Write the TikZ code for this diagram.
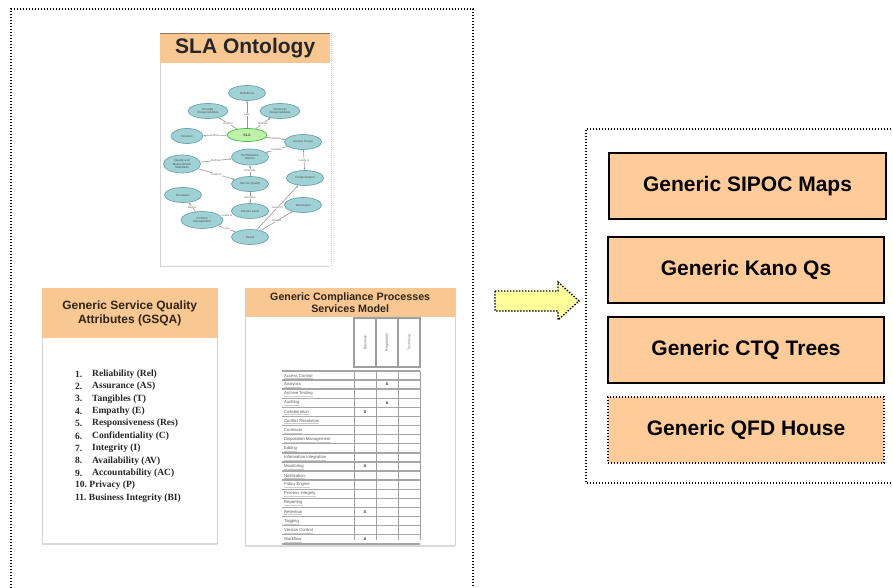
\documentclass[tikz,border=0pt]{standalone}
\usepackage{fontspec}
\setmainfont{Liberation Sans}
\newfontfamily\serifface{Liberation Serif}
\usetikzlibrary{arrows.meta,shapes.geometric}

\definecolor{peach}{HTML}{FFCC99}
\definecolor{hdrpeach}{HTML}{F8C792}
\definecolor{hdrtext}{HTML}{2E2418}
\definecolor{pale}{HTML}{FFFF99}
\definecolor{ontofill}{HTML}{A0D2D5}
\definecolor{ontoline}{HTML}{6AA6A9}
\definecolor{slagreen}{HTML}{BDF2A8}

\begin{document}
\begin{tikzpicture}[x=1pt,y=-1pt,
  dotline/.style={line width=1.4pt, dash pattern=on 1.4pt off 1.6pt},
  genbox/.style={draw=black, line width=1.8pt, fill=peach, minimum width=276pt,
    minimum height=66pt, inner sep=0pt, font=\fontsize{21}{24}\selectfont\bfseries},
  panel/.style={draw=gray!35, line width=0.8pt, fill=white},
  panelhdr/.style={fill=hdrpeach, inner sep=0pt, anchor=north west, text=hdrtext, align=center},
  onto/.style={ellipse, draw=ontoline, line width=0.7pt, fill=ontofill, minimum width=37pt,
    minimum height=15pt, inner sep=0pt, align=center, text=black!70,
    font=\fontsize{3}{3.4}\selectfont},
  rel/.style={draw=gray!80, line width=0.6pt, -{Stealth[length=2.4pt,width=2pt]}},
  rellab/.style={font=\fontsize{2.8}{3}\selectfont, text=black!60, inner sep=0.4pt, fill=white},
  rowlab/.style={anchor=west, inner sep=0pt, font=\fontsize{4.2}{5}\selectfont, text=black!65},
  colhead/.style={draw=gray!75, line width=1.3pt, fill=white, minimum width=22pt, minimum height=49pt,
    inner sep=0pt, font=\fontsize{3.6}{4}\selectfont, text=black!60},
  cellmark/.style={inner sep=0pt, font=\fontsize{5}{5}\selectfont\bfseries, text=black!80},
]
\useasboundingbox (0,0) rectangle (893,588);
\clip (0,0) rectangle (893,588);

% ---------- left container ----------
\draw[dotline] (11,600) -- (11,9) -- (473,9) -- (473,600);

% ---------- SLA ontology panel ----------
\fill[white] (160,33) rectangle (330,266);
\draw[gray!35, line width=1pt] (160,63) -- (160,266) -- (330,266);
\draw[gray!45, line width=1pt, dash pattern=on 1pt off 1pt] (331.5,33) -- (331.5,266);
\node[panelhdr, minimum width=170pt, minimum height=30pt, text=black!85,
      font=\fontsize{21}{24}\selectfont\bfseries] (slahdr) at (160,33) {SLA Ontology};
\draw[hdrtext!50!hdrpeach, line width=0.8pt] (slahdr.north west) -- (slahdr.north east);

\node[onto] (def)   at (247,93)  {Definitions};
\node[onto, minimum width=40pt] (prov)  at (208,111) {Provider\\Responsibilities};
\node[onto, minimum width=40pt] (cust)  at (280,111) {Customer\\Responsibilities};
\node[onto, minimum width=32pt] (dur)   at (187,136) {Duration};
\node[onto, fill=slagreen, draw=green!45!gray, minimum width=40pt, minimum height=13pt,
      font=\fontsize{3.6}{4}\selectfont\bfseries] (sla) at (247,135) {SLA};
\node[onto] (scope) at (303,142) {Service Scope};
\node[onto, minimum height=16pt] (perf)  at (250,157) {Performance\\Metrics};
\node[onto, minimum height=18pt] (qual)  at (182,164) {Quality and\\Measurement\\Standards};
\node[onto] (comp)  at (305,178) {Compensation};
\node[onto] (squal) at (250,184) {Service Quality};
\node[onto] (esc)   at (183,195) {Escalation};
\node[onto] (term)  at (303,205) {Termination};
\node[onto] (slev)  at (250,211) {Service Level};
\node[onto, minimum width=42pt, minimum height=17pt] (prob) at (202,220) {Problem\\Management};
\node[onto] (res)   at (250,237) {Result};

\draw[rel] (sla) -- node[rellab] {Has} (def);
\draw[rel] (sla) -- node[rellab] {Defines} (prov);
\draw[rel] (sla) -- node[rellab] {Defines} (cust);
\draw[rel] (sla) -- node[rellab] {Defines} (dur);
\draw[rel] (sla) -- node[rellab] {Contains} (scope);
\draw[rel] (scope) -- node[rellab] {Includes} (perf);
\draw[rel] (qual) -- node[rellab] {Defines} (perf);
\draw[rel] (scope) -- node[rellab] {Leads to} (comp);
\draw[rel] (squal) -- node[rellab] {Depends} (perf);
\draw[rel] (qual) -- node[rellab] {Leads to} (squal);
\draw[rel] (squal) -- node[rellab] {Identifies} (slev);
\draw[rel] (prob) -- node[rellab] {Needs} (esc);
\draw[rel] (slev) -- node[rellab] {Leads to} (prob);
\draw[rel] (prob) -- node[rellab] {Uses} (res);
\draw[rel] (res) -- node[rellab] {Leads to} (comp);
\draw[rel] (res) -- node[rellab] {Causes} (term);

% ---------- GSQA panel ----------
\draw[panel] (42,288) rectangle (217,543);
\draw[gray!30, line width=2pt] (42,544) -- (217,544);
\node[panelhdr, minimum width=175pt, minimum height=50pt,
      font=\fontsize{12}{13.5}\selectfont\bfseries] (gsqahdr) at (42,288)
      {Generic Service Quality\\Attributes (GSQA)};
\foreach \n/\t [count=\k from 0] in {1./Reliability (Rel), 2./Assurance (AS), 3./Tangibles (T),
    4./Empathy (E), 5./Responsiveness (Res), 6./Confidentiality (C), 7./Integrity (I),
    8./Availability (AV), 9./Accountability (AC), 10./Privacy (P), 11./Business Integrity (BI)}{
  \ifnum\k<9
    \node[anchor=west, inner sep=0pt, font=\serifface\bfseries\fontsize{9.5}{10}\selectfont, text=black!85]
      (gnum\k) at (75,374+12.4*\k) {\n};
    \node[anchor=west, inner sep=0pt, font=\serifface\bfseries\fontsize{9.5}{10}\selectfont, text=black!85]
      (gitem\k) at (92,374+12.4*\k) {\t};
  \else
    \node[anchor=west, inner sep=0pt, font=\serifface\bfseries\fontsize{9.5}{10}\selectfont, text=black!85]
      (gitem\k) at (75,374+12.4*\k) {\n\ \t};
  \fi
}

% ---------- compliance processes panel ----------
\draw[panel] (245,288) rectangle (455,545);
\draw[gray!30, line width=2pt] (245,546) -- (455,546);
\node[panelhdr, minimum width=210pt, minimum height=29pt,
      font=\fontsize{10.7}{12}\selectfont\bfseries] (cphdr) at (245,288)
      {Generic Compliance Processes\\Services Model};
\node[colhead] (c1) at (365,342.5) {\rotatebox{90}{Business}};
\node[colhead] (c2) at (387,342.5) {\rotatebox{90}{Regulatory}};
\node[colhead] (c3) at (409,342.5) {\rotatebox{90}{Technical}};
\foreach \t [count=\k from 0] in {Access Control, Analytics, Archive Testing, Auditing,
    Collaboration, Conflict Resolution, Contracts, Disposition Management, Editing,
    Information Integration, Monitoring, Notification, Policy Engine, Process Integrity,
    Reporting, Retention, Tagging, Version Control, Workflow}{
  \node[rowlab] (row\k) at (284,375.5+9.1*\k) {\t};
  \draw[gray!40, line width=0.5pt] (284,378.2+9.1*\k) -- (row\k.east |- 0,378.2+9.1*\k);
  \draw[gray!70, line width=1.4pt] (282,380+9.1*\k) -- (420,380+9.1*\k);
}
\draw[gray!70, line width=1.4pt] (282,371) -- (420,371);
\foreach \x in {354,376,398,420}{
  \draw[gray!75, line width=1pt] (\x,371) -- (\x,540);
}
\node[cellmark] (m1) at (387,384.6) {x};
\node[cellmark] (m2) at (387,402.8) {x};
\node[cellmark] (m3) at (365,411.9) {x};
\node[cellmark] (m4) at (365,466.5) {x};
\node[cellmark] (m5) at (365,512)   {x};
\node[cellmark] (m6) at (365,539.3) {x};

% ---------- arrow towards the generic artefacts ----------
\draw[dotline, fill=pale] (495,291) -- (558,291) -- (558,282) -- (579,301)
  -- (558,320) -- (558,311) -- (495,311) -- cycle;

% ---------- right container and generic artefacts ----------
\draw[dotline] (900,129) -- (586,129) -- (586,483) -- (900,483);
\node[genbox, minimum width=277pt] (sipoc) at (747.5,186) {Generic SIPOC Maps};
\node[genbox] (kano) at (746,270) {Generic Kano Qs};
\node[genbox] (ctq)  at (746,350) {Generic CTQ Trees};
\node[genbox, dotline] (qfd) at (746,430) {Generic QFD House};
\end{tikzpicture}
\end{document}
